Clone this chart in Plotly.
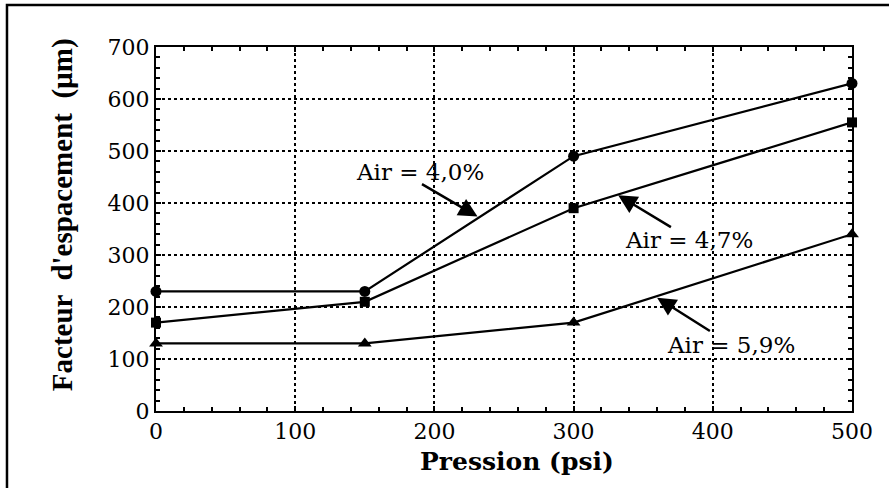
import plotly.graph_objects as go

# Pressure (psi) and spacing factor (µm) for three air contents
pression = [0, 150, 300, 500]
air_40 = [230, 230, 490, 630]
air_47 = [170, 210, 390, 555]
air_59 = [130, 130, 170, 340]

x_ticks = [0, 100, 200, 300, 400, 500]
y_ticks = [0, 100, 200, 300, 400, 500, 600, 700]

# Label text, label anchor (x, y), arrow tail (x, y), arrow head (x, y) in data units
labels = ["Air = 4,0%", "Air = 4,7%", "Air = 5,9%"]
label_pos = [(190, 460), (383, 329), (413, 127)]
arrow_tail = [(190, 438), (371, 352), (399, 152)]
arrow_head = [(231, 374), (332, 415), (360, 218)]

series = [
    (air_40, "circle", 11),
    (air_47, "square", 10),
    (air_59, "triangle-up", 12),
]

fig = go.Figure()
for vals, sym, size in series:
    fig.add_trace(go.Scatter(
        x=pression, y=vals, mode="lines+markers",
        line=dict(color="black", width=2.2),
        marker=dict(symbol=sym, size=size, color="black"),
        cliponaxis=False, showlegend=False,
    ))

for txt, (lx, ly), (tx, ty), (hx, hy) in zip(labels, label_pos, arrow_tail, arrow_head):
    fig.add_annotation(
        x=hx, y=hy, ax=tx, ay=ty, xref="x", yref="y", axref="x", ayref="y",
        text="", showarrow=True, arrowhead=2, arrowsize=1.5, arrowwidth=2.5,
        arrowcolor="black",
    )
    fig.add_annotation(
        x=lx, y=ly, xref="x", yref="y", text=txt, showarrow=False,
        font=dict(family="DejaVu Serif", size=23, color="black"),
        xanchor="center", yanchor="middle",
    )

# Axis titles
fig.add_annotation(
    x=0.519, y=-0.140, xref="paper", yref="paper", text="<b>Pression (psi)</b>",
    showarrow=False, font=dict(family="DejaVu Serif", size=25, color="black"),
    xanchor="center", yanchor="middle",
)
fig.add_annotation(
    x=-0.135, y=0.538, xref="paper", yref="paper",
    text="<b>Facteur  d'espacement  (µm)</b>", textangle=-90,
    showarrow=False, font=dict(family="Liberation Serif", size=29, color="black"),
    xanchor="center", yanchor="middle",
)

axis_common = dict(
    showline=True, linecolor="black", linewidth=2, mirror="ticks",
    ticks="inside", ticklen=5, tickwidth=1.5, tickcolor="black",
    showgrid=True, gridcolor="black", gridwidth=1.6, griddash="dot",
    zeroline=False,
    tickfont=dict(family="DejaVu Serif", size=22, color="black"),
    minor=dict(dtick=20, ticks="inside", ticklen=4, tickwidth=1.5,
               tickcolor="black", showgrid=False),
)

fig.update_xaxes(range=[0, 500], tickvals=x_ticks, **axis_common)
fig.update_yaxes(range=[0, 700], tickvals=y_ticks, **axis_common)

# Frame around the figure
fig.add_shape(type="rect", xref="paper", yref="paper",
              x0=-0.2141, x1=1.10, y0=-0.30, y1=1.1154,
              line=dict(color="black", width=2.5), layer="above")

fig.update_layout(
    width=889, height=488,
    margin=dict(l=156, r=37, t=47, b=77),
    paper_bgcolor="white", plot_bgcolor="white",
)

fig.write_html("out.html")
